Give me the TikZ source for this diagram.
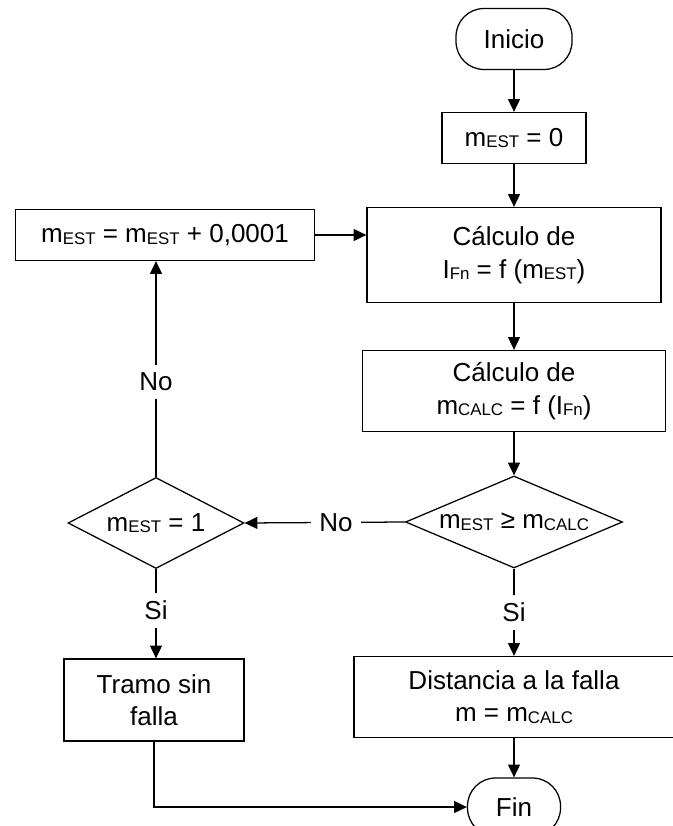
\documentclass[tikz,border=0pt]{standalone}
\usepackage{fontspec}
\setmainfont{Liberation Sans}
\usetikzlibrary{shapes.geometric,arrows.meta}
\newcommand{\lo}[1]{\raisebox{-1.2pt}{\fontsize{12}{12}\selectfont #1}}
\tikzset{
    every node/.style={font=\fontsize{18.5}{23}\selectfont},
    proc/.style={draw, line width=0.9pt, rectangle, align=center, inner sep=0pt},
    term/.style={draw, line width=0.9pt, rounded corners=0.7cm, inner sep=0pt},
    dec/.style={draw, line width=0.9pt, diamond, inner sep=0pt},
    flow/.style={draw, line width=0.9pt, -{Triangle[length=0.32cm,width=0.3cm]}},
    lbl/.style={fill=white, inner sep=0.2cm}
}
\begin{document}
\begin{tikzpicture}
    \useasboundingbox (0,0) rectangle (16.8,-20.65);

    % right column
    \node[term, minimum width=2.9cm, minimum height=1.525cm] (ini) at (12.85,-0.975) {Inicio};
    \node[proc, minimum width=3.6cm, minimum height=1.275cm] (m0) at (12.85,-3.45) {m\lo{EST} = 0};
    \node[proc, minimum width=7.35cm, minimum height=2.375cm] (calcI) at (12.85,-6.375) {Cálculo de\\I\lo{Fn} = f (m\lo{EST})};
    \node[proc, minimum width=7.575cm, minimum height=2.025cm] (calcM) at (12.85,-9.775) {Cálculo de\\m\lo{CALC} = f (I\lo{Fn})};
    \node[dec, aspect=2.36, minimum width=5.425cm, minimum height=2.3cm] (cmp) at (12.85,-13.05) {m\lo{EST} ≥ m\lo{CALC}};
    \node[proc, minimum width=8cm, minimum height=2.025cm] (dist) at (12.85,-17.425) {Distancia a la falla\\m = m\lo{CALC}};
    \node[term, minimum width=2.325cm, minimum height=1.45cm] (fin) at (12.85,-20.175) {Fin};

    % left column
    \node[proc, minimum width=7.475cm, minimum height=1.275cm] (inc) at (4.125,-5.875) {m\lo{EST} = m\lo{EST} + 0,0001};
    \node[dec, aspect=1.93, minimum width=4.4cm, minimum height=2.275cm] (one) at (3.9,-13.075) {m\lo{EST} = 1};
    \node[proc, minimum width=4.5cm, minimum height=2.05cm] (tramo) at (3.85,-17.5) {Tramo sin\\falla};

    % connectors
    \path[flow] (ini) -- (m0);
    \path[flow] (m0) -- (calcI);
    \path[flow] (calcI) -- (calcM);
    \path[flow] (calcM) -- (cmp);
    \path[flow] (cmp.south) -- node[lbl, pos=0.5] {Si} (dist.north);
    \path[flow] (dist) -- (fin);
    \path[flow] (cmp.west) -- node[lbl, pos=0.43] {No} (one.east);
    \path[flow] (one.north) -- node[lbl, pos=0.44] {No} (one.north |- inc.south);
    \path[flow] (inc.east) -- (inc.east -| calcI.west);
    \path[flow] (one.south) -- node[lbl, pos=0.46] {Si} (one.south |- tramo.north);
    \path[flow] (tramo.south) |- (fin.west);
\end{tikzpicture}
\end{document}
